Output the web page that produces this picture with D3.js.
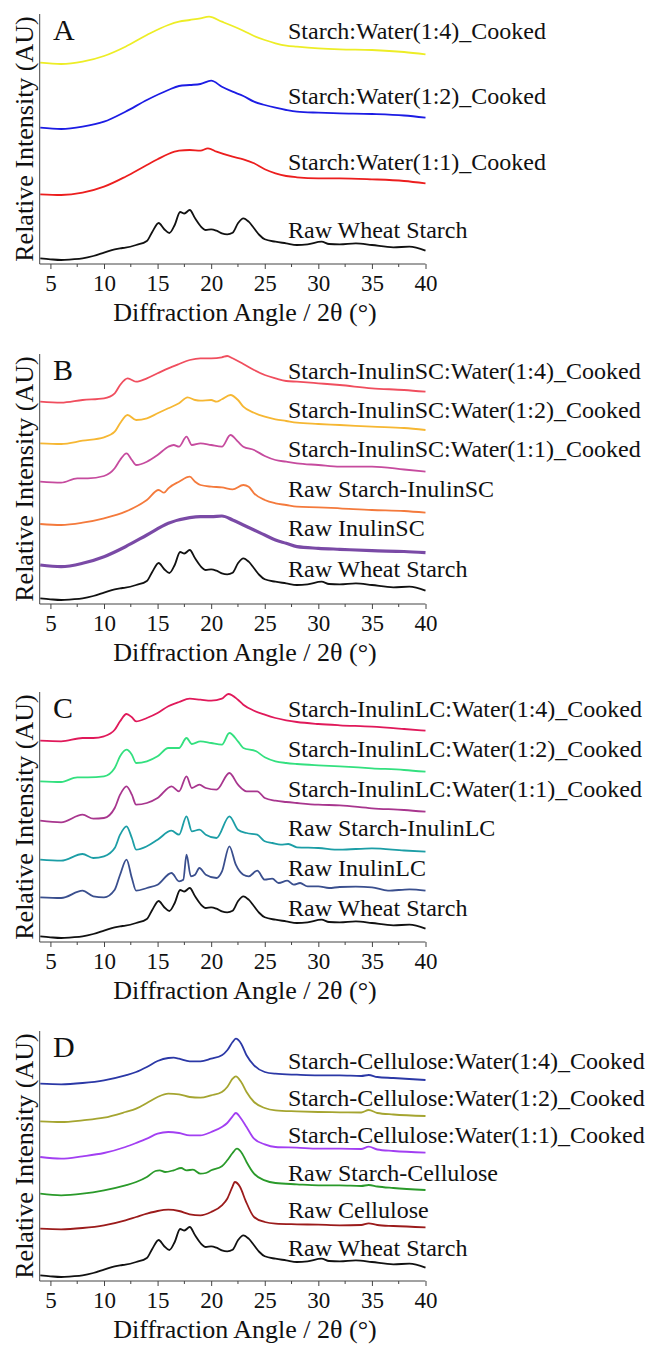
<!DOCTYPE html>
<html>
<head>
<meta charset="utf-8">
<script src="https://cdn.jsdelivr.net/npm/d3@7"></script>
<style>
  body { margin: 0; background: #fff; }
  text { font-family: "Liberation Serif", "Times New Roman", serif; fill: #111; }
</style>
</head>
<body>
<div id="chart"></div>
<script>
// XRD patterns, [2theta, stacked intensity (AU)]
const rawWheatStarch = [[4.05,5.7],[5,4.7],[6,4],[7,4.7],[8,5.7],[9,8],[10,11.3],[11,14.7],[11.5,15.7],[12,16.3],[13,19],[14,23],[14.5,32],[15.1,41],[15.6,35],[16.1,31],[16.6,39],[17.1,52],[17.5,50.5],[18,54],[18.5,45.7],[19,38],[19.5,34],[20,34.7],[20.5,33.3],[21,30.7],[21.5,29.7],[22,31.3],[22.5,40.7],[23,45.7],[23.5,42.3],[24,35.7],[24.5,29],[25,24.7],[26,22.3],[27,20.7],[28,19],[29,19.7],[30.3,22.3],[31,20],[32,19.7],[33.5,20.7],[35,19],[37,16.7],[38.5,17.3],[40,13.3]];

const starchWater14 = [[4.05,201.3],[6,200],[8,202.3],[10,208],[12,217.3],[14,229],[16,239],[17,242.3],[18,244],[19,245.7],[19.8,247.3],[21,242.3],[22,238],[23,233.3],[24,228],[25,224],[26,220.7],[27,218.3],[28,217.3],[30,215.7],[32,214.7],[35,214],[38,212],[40,209.7]];
const starchWater12 = [[4.05,136.3],[6,135],[8,137.3],[10,142.3],[12,152.3],[14,164],[16,174],[17,178],[18,179],[19,180],[20,183.3],[21,177.3],[22,172.3],[23,168],[24,162.3],[25,159],[26,156.3],[27,154],[28,152.3],[30,151.3],[32,150.7],[35,150],[38,148.5],[40,146.3]];
const starchWater11 = [[4.05,69.7],[6,69],[8,71.3],[10,77.3],[12,87.3],[14,99],[15,104.7],[16,110],[17,113.3],[18,114],[19,113.3],[19.7,115.7],[20.5,112.3],[22,107.3],[23,104.7],[24,100.7],[25,94.7],[26,90.7],[27,88],[28,86.7],[30,85.7],[32,85.7],[35,84.7],[38,83],[40,80.7]];

const inulinSC14 = [[4.05,202.3],[6,201.3],[8,204],[10,205.7],[11,210.7],[11.5,219],[12.2,225.7],[12.6,224],[13,222.3],[14,225.7],[15,230.7],[16,235.7],[17,240],[18,244],[19,245.7],[20,245.7],[21,246.7],[21.5,248],[22,245.7],[23,240],[24,234],[25,229],[26,225.7],[27,223],[28,222.3],[30,220.7],[32,219],[35,215.7],[38,214],[40,212.3]];
const inulinSC12 = [[4.05,160.7],[6,160],[8,163.3],[10,166.7],[11,172.3],[11.5,180.7],[12.2,189],[13,184],[14,185.7],[15,190.7],[16,195.7],[17,200.7],[17.8,206.7],[18.5,204],[19,203.3],[20,204],[20.5,202.3],[21,204.7],[21.8,209],[22.5,204],[23,197.3],[24,191.3],[25,187.3],[26,184.7],[27,183],[28,181.3],[30,180],[32,179],[35,177.3],[38,176],[40,174]];
const inulinSC11 = [[4.05,122.3],[6,121.3],[7.5,125.7],[8.5,125.7],[10,128],[11,135.7],[11.5,144],[12.1,150.7],[12.6,144],[13,139],[14,142.3],[15,149],[16,157.3],[16.5,159],[17,157.3],[17.7,167.3],[18.2,159],[19,160.7],[20,159],[21,157.3],[21.8,169],[22.5,162.3],[23,157.3],[24,154],[25,148],[26,144],[27,142.3],[28,140.7],[30,139],[32,137.3],[35,137.3],[38,134.5],[40,132.3]];
const rawStarchInulinSC = [[4.05,80],[6,79],[8,81.3],[10,85.7],[12,92.3],[14,104],[15.1,114],[15.6,111.3],[16,115.7],[17,122.3],[18,127.3],[18.5,122.3],[19,119],[20,117.3],[21,116.7],[22,114.7],[23,119],[23.5,117.3],[24,110.7],[25,104],[26,100.7],[27,99],[28,97.3],[30,96.7],[32,95.7],[35,94],[38,93],[40,91.3]];
const rawInulinSC = [[4.05,39],[6,37.3],[8,40.7],[10,47.3],[12,57.3],[14,69],[16,80.7],[18,86.3],[19,87.3],[20,87.3],[21,88],[22,84],[23,79],[24,74],[25,69],[26,64],[27,60.7],[28,57.3],[30,55.7],[32,54.7],[35,53.3],[38,52.5],[40,51.3]];

const inulinLC14 = [[4.05,201.3],[6,200.7],[8,204],[9,204],[10,205.7],[11,212.3],[11.5,220.7],[12.1,228],[12.6,224.7],[13,220.7],[14,224],[15,229],[16,235.7],[17,240],[18,243.3],[19,242.3],[20,241.3],[21,243.3],[21.6,248],[22.5,242.3],[23,237.3],[24,231.3],[25,227.3],[26,224],[27,221.7],[28,220],[30,218],[32,216.7],[35,215.3],[38,213],[40,211.3]];
const inulinLC12 = [[4.05,160.7],[6,160],[7.5,164.7],[8.5,164.7],[10,165.7],[11,174],[11.5,185.7],[12.1,192.3],[12.6,187.3],[13,179],[14,180.7],[15,185.7],[16,194],[17,194],[17.7,204],[18.2,198],[19,200.7],[20,199],[21,197.3],[21.7,209],[22.5,200.7],[23,194],[24.2,190.7],[25,184.7],[26,180.7],[27,179],[28,178],[30,176.7],[32,175.7],[35,173.7],[38,172],[40,170.3]];
const inulinLC11 = [[4.05,121.3],[6,119.7],[8,127.3],[9,123.3],[10,124],[11,134],[11.5,147.3],[12.1,155.7],[12.6,147.3],[13,137.3],[14,139],[15,144],[16.3,155.7],[17,150.7],[17.7,165.7],[18.2,154],[18.9,157.3],[19.5,154],[20.5,152.3],[21.7,169],[22.5,157.3],[23.3,150.7],[24.3,150.7],[25,144],[26,141.3],[27,140],[28,139],[30,137.3],[32,136.7],[35,133.7],[38,132],[40,130.3]];
const rawStarchInulinLC = [[4.05,82.3],[6,81.3],[8,88],[9,84],[10,85.7],[11,94],[11.5,107.3],[12.1,115.7],[12.6,104],[13,92.3],[14,95.7],[15,102.3],[16.3,111.3],[17,107.3],[17.7,125.7],[18.2,110.7],[18.9,112.3],[19.5,107.3],[20.5,104],[21.7,125.7],[22.5,112.3],[23.3,109],[24.3,107.3],[25,100.7],[25.7,99],[26.5,97.3],[27.2,98],[28,94.7],[30,94],[32,92.3],[35,93.7],[38,91.5],[40,90.3]];
const rawInulinLC = [[4.05,44.7],[6,44],[8,51.3],[9,45.7],[10,44.7],[11,52.3],[11.5,67.3],[12.1,82.3],[12.6,64],[13,51.3],[14,54],[15,57.3],[16.3,69],[17,60.7],[17.4,62.3],[17.7,87.3],[18.1,65.7],[18.5,67.3],[18.9,74],[19.5,67.3],[20.5,64],[21,70.3],[21.7,95.7],[22.3,77.3],[23,67.3],[23.5,65.7],[24.3,71.3],[25,62.3],[25.7,63.3],[26.3,59],[27.1,61.3],[27.7,57.3],[28.3,59],[29,55.7],[30,55.7],[31,54],[32,55],[33.5,55.3],[35,54.7],[36.5,51.3],[38.5,52.7],[40,51.3]];

const celluloseWater14 = [[4.05,197.3],[6,196.7],[8,198],[10,200.7],[12,205.7],[13,209],[14,214],[15,220],[16,223],[16.5,223.3],[17,222.3],[18,219.7],[19,219.7],[20,222.3],[21,225.7],[21.5,230.7],[22,239],[22.3,242.3],[22.8,237.3],[23.3,225.7],[24,215.7],[25,209],[26,207.3],[28,206.3],[30,205.7],[32,205.7],[34,205],[34.7,206],[35.5,204],[37,203],[40,201]];
const celluloseWater12 = [[4.05,159.7],[6,159],[8,160.7],[10,163.3],[12,169],[13,172.3],[14,178],[15,184],[16,187.3],[17,186.7],[18,184],[19,183.3],[20,185.7],[21,189],[21.5,194],[22,202.3],[22.3,204.7],[22.8,199],[23.3,189],[24,179],[25,173],[26,170.7],[28,169.7],[30,169],[32,168.7],[34,168.5],[34.7,171],[35.5,168],[37,166.5],[40,165]];
const celluloseWater11 = [[4.05,124],[6,122.3],[8,124.7],[10,128],[12,134],[13,138],[14,142.3],[15,147.3],[16,149],[17,148],[18,145.7],[19,145.7],[20,149],[21,154],[21.5,158],[22,164.7],[22.3,168],[22.8,162.3],[23.3,154],[24,142.3],[25,136.7],[26,134],[28,133.3],[30,132.3],[32,132.3],[34,132],[34.7,134.3],[35.5,131.5],[37,130],[40,128.3]];
const rawStarchCellulose = [[4.05,87.3],[6,85.7],[8,87.3],[10,90.7],[12,95.7],[13,99],[14,104],[14.8,110],[15.2,110.7],[15.7,109],[16.5,110.7],[17.2,113],[17.7,110.7],[18.3,111.3],[19,107.3],[19.5,108],[20,110.7],[21,114.7],[21.5,120.7],[22,128],[22.4,132.3],[22.9,127.3],[23.3,119],[24,107.3],[25,100.7],[26,98],[28,96.7],[30,95.7],[32,95.7],[34,95],[34.7,96],[35.5,94.5],[37,93],[40,91]];
const rawCellulose = [[4.05,52.3],[6,51.7],[8,53],[10,55.7],[12,60.7],[13,64],[14,67.3],[15,70],[16,71.3],[17,70],[18,66.7],[19,65.7],[20,69],[21,75.7],[21.5,82.3],[22,94.7],[22.2,99],[22.7,94],[23.2,80.7],[24,64],[25,59],[26,57.3],[28,56.7],[30,56.3],[32,55.7],[34,56],[34.7,57.7],[35.5,56],[37,55],[40,53.7]];

const panelLetters = ["A", "B", "C", "D"];
const xTicks = [5, 10, 15, 20, 25, 30, 35, 40];
const xMinorTicks = [7.5, 12.5, 17.5, 22.5, 27.5, 32.5, 37.5];

// series per panel, top to bottom
const seriesNames = [
  ["Starch:Water(1:4)_Cooked", "Starch:Water(1:2)_Cooked", "Starch:Water(1:1)_Cooked", "Raw Wheat Starch"],
  ["Starch-InulinSC:Water(1:4)_Cooked", "Starch-InulinSC:Water(1:2)_Cooked", "Starch-InulinSC:Water(1:1)_Cooked", "Raw Starch-InulinSC", "Raw InulinSC", "Raw Wheat Starch"],
  ["Starch-InulinLC:Water(1:4)_Cooked", "Starch-InulinLC:Water(1:2)_Cooked", "Starch-InulinLC:Water(1:1)_Cooked", "Raw Starch-InulinLC", "Raw InulinLC", "Raw Wheat Starch"],
  ["Starch-Cellulose:Water(1:4)_Cooked", "Starch-Cellulose:Water(1:2)_Cooked", "Starch-Cellulose:Water(1:1)_Cooked", "Raw Starch-Cellulose", "Raw Cellulose", "Raw Wheat Starch"]
];
const seriesData = [
  [starchWater14, starchWater12, starchWater11, rawWheatStarch],
  [inulinSC14, inulinSC12, inulinSC11, rawStarchInulinSC, rawInulinSC, rawWheatStarch],
  [inulinLC14, inulinLC12, inulinLC11, rawStarchInulinLC, rawInulinLC, rawWheatStarch],
  [celluloseWater14, celluloseWater12, celluloseWater11, rawStarchCellulose, rawCellulose, rawWheatStarch]
];

// styling / layout
const seriesColors = [
  ["#eded26", "#1c1ce4", "#ec1e1e", "#111111"],
  ["#f04e5e", "#f6b733", "#c64b9e", "#f47a3c", "#7a4aa6", "#111111"],
  ["#e0195a", "#33e07f", "#a8368e", "#1c9ea6", "#3a4f8e", "#111111"],
  ["#2b38a6", "#a5a530", "#a23ff2", "#2a9a2a", "#9b1b1b", "#111111"]
];
const labelBaselines = [
  [225, 160, 94, 26],
  [225, 186, 147, 107, 68, 27],
  [225, 185, 145, 106, 66, 26],
  [212, 175, 138, 100, 63, 25]
];
const panelBottoms = [264, 604, 942, 1281];

const width = 654, height = 1345;
const x0 = 39.7, x1 = 425.5, plotH = 250;

const svg = d3.select("#chart").append("svg")
  .attr("width", width)
  .attr("height", height)
  .style("background", "#fff");

const x = d3.scaleLinear().domain([4, 40]).range([x0, x1]);

panelBottoms.forEach(function (bottom, p) {
  const y = d3.scaleLinear().domain([0, plotH]).range([bottom, bottom - plotH]);
  const g = svg.append("g");

  const line = d3.line()
    .x(function (d) { return x(d[0]); })
    .y(function (d) { return y(d[1]); })
    .curve(d3.curveMonotoneX);

  // traces
  g.selectAll(".trace")
    .data(seriesData[p])
    .enter().append("path")
    .attr("class", "trace")
    .attr("d", line)
    .attr("fill", "none")
    .attr("stroke", function (d, i) { return seriesColors[p][i]; })
    .attr("stroke-width", function (d) { return d === rawInulinSC ? 3.2 : 1.8; })
    .attr("stroke-linejoin", "round");

  // x axis with outward ticks
  const xAxis = d3.axisBottom(x).tickValues(xTicks).tickSize(5).tickPadding(4)
    .tickFormat(d3.format("d"));
  const ax = g.append("g").attr("transform", "translate(0," + bottom + ")").call(xAxis);
  ax.attr("font-family", null);
  ax.select(".domain").attr("stroke", "#444").attr("d", "M" + x0 + ",0H" + x1);
  ax.selectAll(".tick line").attr("stroke", "#444");
  ax.selectAll(".tick text")
    .attr("font-size", 23)
    .attr("fill", "#111")
    .attr("dy", null)
    .attr("y", 27);

  ax.selectAll(".minor")
    .data(xMinorTicks)
    .enter().append("line")
    .attr("class", "minor")
    .attr("x1", function (d) { return x(d); })
    .attr("x2", function (d) { return x(d); })
    .attr("y1", 0).attr("y2", 3)
    .attr("stroke", "#444");

  // left axis line only
  g.append("line")
    .attr("x1", x0).attr("x2", x0)
    .attr("y1", bottom).attr("y2", bottom - plotH)
    .attr("stroke", "#444");

  // panel letter
  g.append("text")
    .attr("x", 53).attr("y", bottom - 224)
    .attr("font-size", 30)
    .text(panelLetters[p]);

  // series labels
  g.selectAll(".label")
    .data(seriesNames[p])
    .enter().append("text")
    .attr("class", "label")
    .attr("x", 288)
    .attr("y", function (d, i) { return bottom - labelBaselines[p][i]; })
    .attr("font-size", 24)
    .text(function (d) { return d; });

  // axis titles
  g.append("text")
    .attr("x", 245).attr("y", bottom + 57)
    .attr("text-anchor", "middle")
    .attr("font-size", 26)
    .text("Diffraction Angle / 2\u03b8 (\u00b0)");

  g.append("text")
    .attr("transform", "translate(33," + (bottom - plotH / 2) + ") rotate(-90)")
    .attr("text-anchor", "middle")
    .attr("font-size", 26)
    .text("Relative Intensity (AU)");
});
</script>
</body>
</html>
